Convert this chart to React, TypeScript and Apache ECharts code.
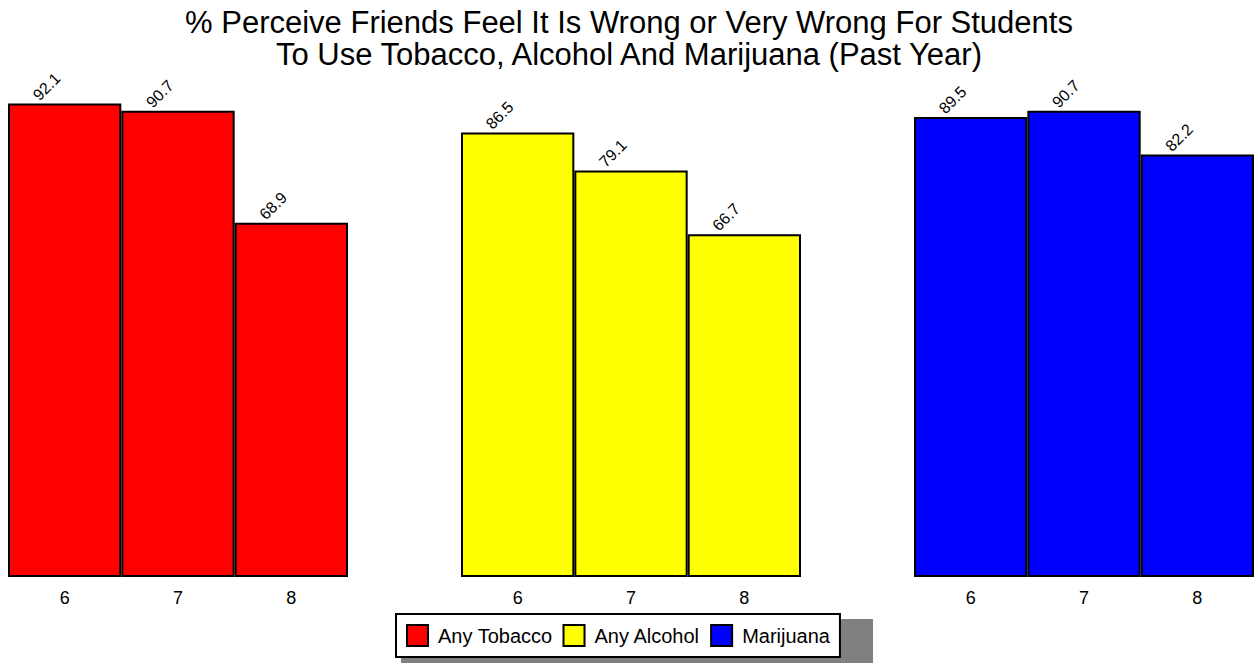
import React, { useEffect, useRef } from "react";
import * as echarts from "echarts";

const grades = ["6", "7", "8"];
const seriesNames = ["Any Tobacco", "Any Alcohol", "Marijuana"];
const tobacco = [92.1, 90.7, 68.9];
const alcohol = [86.5, 79.1, 66.7];
const marijuana = [89.5, 90.7, 82.2];
const colors = ["#FF0000", "#FFFF00", "#0000FF"];
const titleText =
  "% Perceive Friends Feel It Is Wrong or Very Wrong For Students\nTo Use Tobacco, Alcohol And Marijuana (Past Year)";

const FONT = "'Liberation Sans', Arial, Helvetica, sans-serif";

export default function App() {
  const ref = useRef<HTMLDivElement>(null);
  useEffect(() => {
    if (!ref.current) return;
    const chart = echarts.init(ref.current, undefined, { renderer: "svg" });
    const values = [tobacco, alcohol, marijuana];
    const lefts = [8, 461, 914];
    const grids = lefts.map((l) => ({ left: l, width: 340, top: 63, height: 514 }));
    const xAxes = lefts.map((_, i) => ({
      type: "category",
      gridIndex: i,
      data: grades,
      axisLine: { show: false },
      axisTick: { show: false },
      axisLabel: { color: "#000", fontSize: 18, fontFamily: FONT, margin: 12 },
    }));
    const yAxes = lefts.map((_, i) => ({
      type: "value",
      gridIndex: i,
      min: 0,
      max: 100,
      show: false,
      splitLine: { show: false },
    }));
    const series = values.map((vals, i) => ({
      type: "bar",
      name: seriesNames[i],
      xAxisIndex: i,
      yAxisIndex: i,
      data: vals,
      barCategoryGap: "0%",
      itemStyle: { color: colors[i], borderColor: "#000", borderWidth: 2 },
      label: {
        show: true,
        position: ["34%", -17],
        rotate: 45,
        align: "center",
        verticalAlign: "middle",
        color: "#000",
        fontSize: 16,
        fontFamily: FONT,
        formatter: (p: any) => p.value.toFixed(1),
      },
    }));
    chart.setOption({
      animation: false,
      backgroundColor: "#fff",
      title: {
        text: titleText,
        left: "center",
        top: 1,
        textStyle: {
          fontSize: 31,
          fontWeight: "normal",
          color: "#000",
          fontFamily: FONT,
          lineHeight: 32,
        },
      },
      graphic: [
        {
          type: "rect",
          z: 0,
          shape: { x: 401, y: 619, width: 472, height: 44 },
          style: { fill: "#808080" },
        },
      ],
      legend: {
        left: 396,
        top: 614,
        z: 10,
        data: seriesNames,
        icon: "rect",
        itemWidth: 21,
        itemHeight: 21,
        itemGap: 10,
        padding: [10, 10, 10, 10],
        backgroundColor: "#fff",
        borderColor: "#000",
        borderWidth: 2,
        borderRadius: 0,
        itemStyle: { borderColor: "#000", borderWidth: 2 },
        textStyle: { color: "#000", fontSize: 20, fontFamily: FONT, padding: [0, 0, 0, 5] },
      },
      grid: grids,
      xAxis: xAxes,
      yAxis: yAxes,
      series,
    });
    return () => chart.dispose();
  }, []);
  return (
    <div
      ref={ref}
      style={{ position: "fixed", left: 0, top: 0, width: 1258, height: 666 }}
    />
  );
}
